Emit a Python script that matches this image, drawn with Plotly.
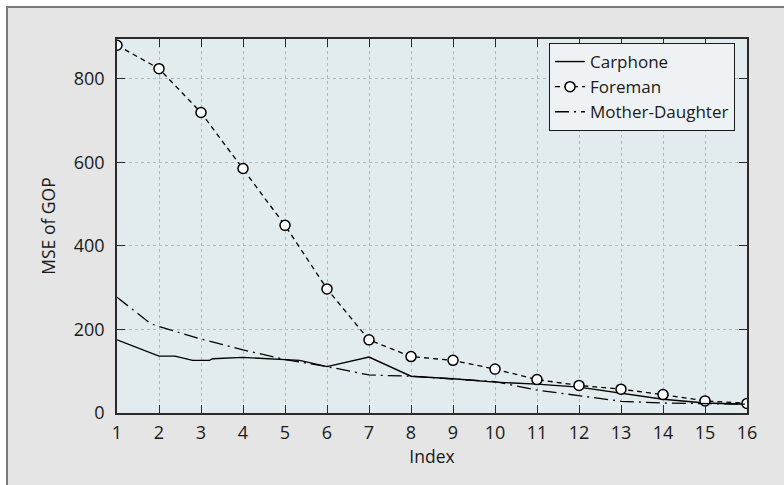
import plotly.graph_objects as go

# ---- data ----
foreman_x = list(range(1, 17))
foreman_y = [880, 824, 719, 585, 449, 297, 175, 135, 126, 105, 80, 66, 57, 44, 29, 23]

carphone_x = [1, 2, 2.38, 2.8, 3.2, 3.28, 4, 5, 5.35, 6, 7, 8, 9, 10, 11, 12, 13, 14, 15, 16]
carphone_y = [175, 136, 136, 126, 126, 130, 133, 128, 126, 111, 134, 88, 82, 74, 69, 62, 48, 33, 24, 21]

md_x = [1, 1.8, 2, 3, 4, 5, 6, 7, 8, 9, 10, 11, 12, 13, 14, 15, 16]
md_y = [277, 214, 207, 177, 151, 128, 111, 91, 88, 82, 75, 55, 42, 28, 24, 22, 21]

x_ticks = list(range(1, 17))
y_ticks = [0, 200, 400, 600, 800]

# ---- layout geometry (pixels) ----
W, H = 784, 485
L, R, T, B = 117, 37, 39, 72
pw, ph = W - L - R, H - T - B


def px_x(p):
    return (p - L) / pw


def px_y(q):
    return (H - B - q) / ph


FONT = "Open Sans"
INK = "#1a1a1a"

fig = go.Figure()

fig.add_trace(go.Scatter(
    x=carphone_x, y=carphone_y, mode="lines", name="Carphone",
    line=dict(color="black", width=1.4),
))
fig.add_trace(go.Scatter(
    x=foreman_x, y=foreman_y, mode="lines+markers", name="Foreman",
    line=dict(color="black", width=1.3, dash="5px,4px"),
    marker=dict(symbol="circle", size=10, color="white",
                line=dict(color="black", width=1.5)),
))
fig.add_trace(go.Scatter(
    x=md_x, y=md_y, mode="lines", name="Mother-Daughter",
    line=dict(color="black", width=1.3, dash="14px,5px,2px,5px"),
))

axis_common = dict(
    showline=True, linecolor="#2a2a2a", linewidth=1.6, mirror="ticks",
    ticks="inside", ticklen=8, tickwidth=1.4, tickcolor="#2a2a2a",
    showgrid=True, gridcolor="#b4b8ba", gridwidth=1, griddash="dot",
    zeroline=False,
    tickfont=dict(family=FONT, size=18, color=INK),
)

fig.update_xaxes(
    range=[1, 16], tickvals=x_ticks, ticktext=[str(v) for v in x_ticks],
    title=dict(text="Index", font=dict(family=FONT, size=17.5, color=INK), standoff=4),
    ticklabelstandoff=3,
    **axis_common,
)
fig.update_yaxes(
    range=[0, 895], tickvals=y_ticks, ticktext=[str(v) for v in y_ticks],
    title=dict(text="MSE of GOP", font=dict(family=FONT, size=17.5, color=INK), standoff=14),
    ticklabelstandoff=7,
    **axis_common,
)

shapes = [
    # outer gray panel with border on left/top
    dict(type="rect", xref="paper", yref="paper", layer="below",
         x0=px_x(7), x1=px_x(W + 20), y0=px_y(H + 20), y1=px_y(7),
         fillcolor="#e5e5e5", line=dict(color="#7a7a7a", width=2)),
    # plot area background
    dict(type="rect", xref="paper", yref="paper", layer="below",
         x0=0, x1=1, y0=0, y1=1, fillcolor="#e2ebee", line=dict(width=0)),
]

fig.update_layout(
    width=W, height=H,
    margin=dict(l=L, r=R, t=T, b=B),
    paper_bgcolor="white",
    plot_bgcolor="rgba(0,0,0,0)",
    font=dict(family=FONT, size=17, color=INK),
    shapes=shapes,
    showlegend=True,
    legend=dict(
        x=px_x(549), y=px_y(43), xanchor="left", yanchor="top",
        bgcolor="#eef2f4", bordercolor="#1a1a1a", borderwidth=1,
        font=dict(family=FONT, size=17, color=INK),
        tracegroupgap=0, itemwidth=30,
    ),
)

fig.write_html("out.html")
